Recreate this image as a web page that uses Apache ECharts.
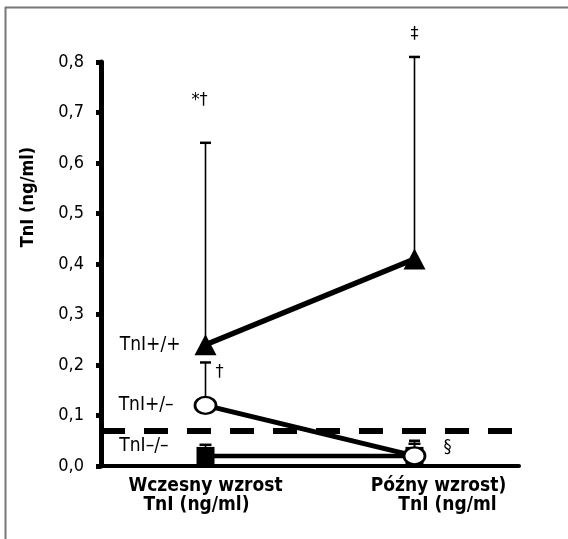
<!DOCTYPE html>
<html><head><meta charset="utf-8">
<script src="https://cdn.jsdelivr.net/npm/echarts@6/dist/echarts.min.js"></script>
<style>html,body{margin:0;padding:0;background:#fff}#c{width:568px;height:539px}</style>
</head><body><div id="c"></div>
<script>
// ---- data ----
const categories = ['Wczesny wzrost\nTnI (ng/ml)', 'Późny wzrost)\nTnI (ng/ml'];
const seriesNames = ['TnI+/+', 'TnI+/–', 'TnI–/–'];
const valsPlusPlus = [0.24, 0.41];
const valsPlusMinus = [0.12, 0.02];
const valsMinusMinus = [0.02, 0.02];
const errPlusPlus = [0.64, 0.81];
const errPlusMinus = [0.205, 0.05];
const errMinusMinus = [0.042, 0.044];
const cutoff = 0.07;
const yTicks = [0, 0.1, 0.2, 0.3, 0.4, 0.5, 0.6, 0.7, 0.8];
// annotations: [category index, y value, text]
const notes = [[0, 0.725, '*†'], [1, 0.855, '‡'], [0, 0.186, '†'], [1, 0.036, '§']];

const FONT = "'DejaVu Sans Condensed','Liberation Sans Narrow','Roboto',sans-serif";
const chart = echarts.init(document.getElementById('c'), null, {renderer: 'canvas'});

function errSeries(vals, highs, capW) {
  return {
    type: 'custom', clip: false, z: 1,
    data: vals.map((v, i) => [i, v, highs[i]]),
    renderItem: function (params, api) {
      const p0 = api.coord([api.value(0), api.value(1)]);
      const p1 = api.coord([api.value(0), api.value(2)]);
      return {type: 'group', children: [
        {type: 'line', shape: {x1: p0[0], y1: p0[1], x2: p1[0], y2: p1[1]}, style: {stroke: '#000', lineWidth: 1.6}},
        {type: 'line', shape: {x1: p1[0] - capW / 2, y1: p1[1], x2: p1[0] + capW / 2, y2: p1[1]}, style: {stroke: '#000', lineWidth: 2.5}}
      ]};
    }
  };
}
const noteOffsets = [[-6, 0], [0, 0], [14, 0], [33, 0]];

const option = {
  animation: false,
  backgroundColor: '#fff',
  grid: {left: 101, width: 418, top: 62, bottom: 73},
  xAxis: {
    type: 'category', data: categories, boundaryGap: true,
    axisLine: {lineStyle: {color: '#000', width: 4}},
    axisTick: {show: false},
    axisLabel: {
      margin: 11, interval: 0,
      formatter: function (v, i) {
        const parts = v.split('\n');
        return i === 0 ? '{a|' + parts[0] + '}\n{b|' + parts[1] + '}' : '{c|' + parts[0] + '}\n{d|' + parts[1] + '}';
      },
      rich: {
        a: {fontFamily: FONT, fontWeight: 'bold', fontSize: 19, color: '#000', lineHeight: 19},
        b: {fontFamily: FONT, fontWeight: 'bold', fontSize: 19, color: '#000', lineHeight: 19, padding: [0, 18, 0, 0]},
        c: {fontFamily: FONT, fontWeight: 'bold', fontSize: 19, color: '#000', lineHeight: 19, padding: [0, 0, 0, 48]},
        d: {fontFamily: FONT, fontWeight: 'bold', fontSize: 19, color: '#000', lineHeight: 19, padding: [0, 0, 0, 66]}
      }
    }
  },
  yAxis: {
    type: 'value', min: 0, max: 0.8, interval: 0.1,
    splitLine: {show: false},
    axisLine: {show: true, lineStyle: {color: '#000', width: 5}},
    axisTick: {show: true, length: 5, lineStyle: {color: '#000', width: 5}},
    axisLabel: {margin: 17, fontFamily: FONT, fontSize: 18, color: '#000',
      formatter: v => v.toFixed(1).replace('.', ',')}
  },
  graphic: [
    {type: 'line', shape: {x1: 5.5, y1: 7, x2: 5.5, y2: 539}, style: {stroke: '#777', lineWidth: 2}, z: 100},
    {type: 'line', shape: {x1: 5, y1: 7.5, x2: 568, y2: 7.5}, style: {stroke: '#777', lineWidth: 2}, z: 100},
    {type: 'text', x: 28, y: 197, rotation: Math.PI / 2, style: {text: 'TnI (ng/ml)', font: 'bold 18px ' + FONT, fill: '#000', textAlign: 'center', textVerticalAlign: 'middle'}}
  ],
  series: [
    errSeries(valsPlusPlus, errPlusPlus, 11),
    errSeries(valsPlusMinus, errPlusMinus, 11),
    errSeries(valsMinusMinus, errMinusMinus, 12),
    {
      name: seriesNames[2], type: 'line', data: valsMinusMinus, z: 3,
      symbol: 'rect', symbolSize: [18, 18], showAllSymbol: true,
      lineStyle: {color: '#000', width: 4.5}, itemStyle: {color: '#000'},
      label: {show: true, position: 'left', distance: 28, offset: [0, -10], fontFamily: FONT, fontSize: 19, color: '#000',
        formatter: p => p.dataIndex === 0 ? p.seriesName : ''}
    },
    {
      name: seriesNames[1], type: 'line', data: valsPlusMinus, z: 4,
      symbol: 'circle', symbolSize: [21, 17], showAllSymbol: true,
      lineStyle: {color: '#000', width: 5}, itemStyle: {color: '#fff', borderColor: '#000', borderWidth: 2.5},
      label: {show: true, position: 'left', distance: 20, fontFamily: FONT, fontSize: 19, color: '#000',
        formatter: p => p.dataIndex === 0 ? p.seriesName : ''}
    },
    {
      name: seriesNames[0], type: 'line', data: valsPlusPlus, z: 5,
      symbol: 'triangle', symbolSize: [22, 21], showAllSymbol: true,
      lineStyle: {color: '#000', width: 5.5}, itemStyle: {color: '#000'},
      label: {show: true, position: 'left', distance: 14, fontFamily: FONT, fontSize: 19, color: '#000',
        formatter: p => p.dataIndex === 0 ? p.seriesName : ''},
      markLine: {
        silent: true, symbol: 'none', label: {show: false},
        lineStyle: {color: '#000', width: 6, type: [24, 19]},
        data: [{yAxis: cutoff}]
      }
    },
    {
      type: 'custom', clip: false, z: 6,
      data: notes,
      renderItem: function (params, api) {
        const p = api.coord([api.value(0), api.value(1)]);
        const o = noteOffsets[params.dataIndex];
        return {type: 'text', x: p[0] + o[0], y: p[1] + o[1],
          style: {text: notes[params.dataIndex][2], font: '18px ' + FONT, fill: '#000', textAlign: 'center', textVerticalAlign: 'middle'}};
      }
    }
  ]
};
chart.setOption(option);
</script></body></html>
